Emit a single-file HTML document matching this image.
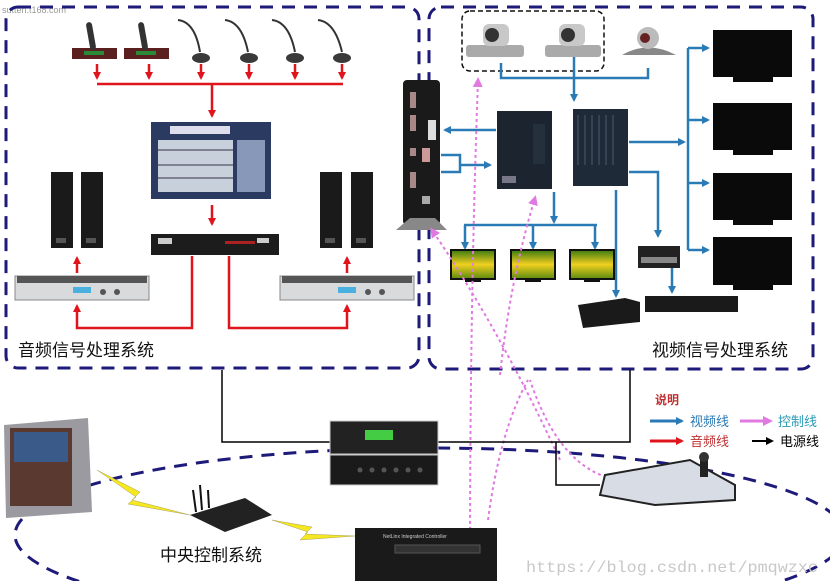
<!DOCTYPE html>
<html><head><meta charset="utf-8"><style>
html,body{margin:0;padding:0;background:#fff;width:830px;height:581px;overflow:hidden}
svg{display:block;overflow:hidden}
text{font-family:"Liberation Sans","Noto Sans CJK SC",sans-serif}
text.wm{font-family:"Liberation Mono","DejaVu Sans Mono",monospace}
</style></head><body>
<svg width="830" height="581" viewBox="0 0 830 581" xmlns="http://www.w3.org/2000/svg">
<defs>
<marker id="ar" markerWidth="8" markerHeight="8" refX="6" refY="4" orient="auto" markerUnits="userSpaceOnUse"><path d="M0,0 L8,4 L0,8 z" fill="#e0141c"/></marker>
<marker id="ab" markerWidth="8" markerHeight="8" refX="6" refY="4" orient="auto" markerUnits="userSpaceOnUse"><path d="M0,0 L8,4 L0,8 z" fill="#2a7ab5"/></marker>
<marker id="ap" markerWidth="10" markerHeight="10" refX="7" refY="5" orient="auto" markerUnits="userSpaceOnUse"><path d="M0,0 L10,5 L0,10 z" fill="#e07ae0"/></marker>
<marker id="ak" markerWidth="8" markerHeight="8" refX="6" refY="4" orient="auto" markerUnits="userSpaceOnUse"><path d="M0,0 L8,4 L0,8 z" fill="#000"/></marker>
<linearGradient id="flw" x1="0" y1="0" x2="0" y2="1"><stop offset="0" stop-color="#3a7a10"/><stop offset="0.5" stop-color="#f0d020"/><stop offset="1" stop-color="#5a8a10"/></linearGradient>
<clipPath id="clip"><rect x="0" y="0" width="830" height="581"/></clipPath>
</defs>
<g clip-path="url(#clip)">
<text x="2" y="13" font-size="9" fill="#999">sutten.t168.com</text>

<rect x="6" y="7" width="413" height="361" rx="12" fill="none" stroke="#1e1a7a" stroke-width="3" stroke-dasharray="13,9"/>
<rect x="429" y="7" width="384" height="362" rx="12" fill="none" stroke="#1e1a7a" stroke-width="3" stroke-dasharray="13,9"/>
<ellipse cx="430" cy="535" rx="415" ry="87" fill="none" stroke="#1e1a7a" stroke-width="3" stroke-dasharray="13,9"/>

<g>
<rect x="72" y="48" width="45" height="11" fill="#5a2020"/><rect x="84" y="51" width="20" height="4" fill="#2a8a3a"/>
<rect x="88" y="22" width="6" height="28" rx="3" fill="#333" transform="rotate(-10 91 36)"/>
<rect x="124" y="48" width="45" height="11" fill="#5a2020"/><rect x="136" y="51" width="20" height="4" fill="#2a8a3a"/>
<rect x="140" y="22" width="6" height="28" rx="3" fill="#333" transform="rotate(-10 143 36)"/>
</g>
<g fill="none" stroke="#333" stroke-width="2">
<path d="M178,20 Q195,22 200,52"/><path d="M225,20 Q242,22 248,52"/><path d="M272,20 Q289,22 295,52"/><path d="M318,20 Q335,22 342,52"/>
</g>
<g fill="#3a3a3a"><ellipse cx="201" cy="58" rx="9" ry="5"/><ellipse cx="249" cy="58" rx="9" ry="5"/><ellipse cx="295" cy="58" rx="9" ry="5"/><ellipse cx="342" cy="58" rx="9" ry="5"/></g>
<g stroke="#e0141c" stroke-width="2.5" fill="none">
<line x1="97" y1="64" x2="97" y2="78" marker-end="url(#ar)"/><line x1="149" y1="64" x2="149" y2="78" marker-end="url(#ar)"/>
<line x1="201" y1="64" x2="201" y2="78" marker-end="url(#ar)"/><line x1="249" y1="64" x2="249" y2="78" marker-end="url(#ar)"/>
<line x1="295" y1="64" x2="295" y2="78" marker-end="url(#ar)"/><line x1="342" y1="64" x2="342" y2="78" marker-end="url(#ar)"/>
<line x1="97" y1="84" x2="343" y2="84"/>
<line x1="212" y1="84" x2="212" y2="116" marker-end="url(#ar)"/>
<line x1="212" y1="205" x2="212" y2="224" marker-end="url(#ar)"/>
<path d="M192,256 V328 H77 V306" marker-end="url(#ar)"/>
<path d="M229,256 V328 H347 V306" marker-end="url(#ar)"/>
<line x1="77" y1="273" x2="77" y2="258" marker-end="url(#ar)"/>
<line x1="347" y1="273" x2="347" y2="258" marker-end="url(#ar)"/>
</g>
<rect x="151" y="122" width="120" height="77" fill="#2a3a60"/>
<rect x="158" y="140" width="75" height="52" fill="#c8d0dc"/>
<g stroke="#334" stroke-width="1"><line x1="158" y1="150" x2="233" y2="150"/><line x1="158" y1="165" x2="233" y2="165"/><line x1="158" y1="178" x2="233" y2="178"/></g>
<rect x="237" y="140" width="28" height="52" fill="#8898b8"/>
<rect x="170" y="126" width="60" height="8" fill="#dde"/>
<rect x="151" y="234" width="128" height="21" fill="#1c1c1c"/><rect x="158" y="238" width="14" height="6" fill="#ccc"/><rect x="225" y="241" width="30" height="3" fill="#a22"/><rect x="257" y="238" width="12" height="5" fill="#ccc"/>
<g fill="#1a1a1a"><rect x="51" y="172" width="22" height="76"/><rect x="81" y="172" width="22" height="76"/><rect x="320" y="172" width="22" height="76"/><rect x="351" y="172" width="22" height="76"/></g>
<g fill="#555"><rect x="56" y="238" width="10" height="5"/><rect x="86" y="238" width="10" height="5"/><rect x="325" y="238" width="10" height="5"/><rect x="356" y="238" width="10" height="5"/></g>
<g>
<rect x="15" y="276" width="134" height="24" fill="#d8dadc" stroke="#888"/><rect x="17" y="276" width="130" height="7" fill="#555"/><rect x="73" y="287" width="18" height="6" fill="#4ab0e0"/><circle cx="103" cy="292" r="3" fill="#555"/><circle cx="117" cy="292" r="3" fill="#555"/>
<rect x="280" y="276" width="134" height="24" fill="#d8dadc" stroke="#888"/><rect x="282" y="276" width="130" height="7" fill="#555"/><rect x="338" y="287" width="18" height="6" fill="#4ab0e0"/><circle cx="368" cy="292" r="3" fill="#555"/><circle cx="382" cy="292" r="3" fill="#555"/>
</g>
<text x="18" y="356" font-size="17" fill="#111">音频信号处理系统</text>

<rect x="462" y="11" width="142" height="60" rx="8" fill="none" stroke="#111" stroke-width="1.5" stroke-dasharray="5,3"/>
<g>
<rect x="466" y="45" width="58" height="12" rx="3" fill="#aaa"/><rect x="483" y="24" width="26" height="22" rx="6" fill="#c8c8c8"/><circle cx="492" cy="35" r="7" fill="#333"/>
<rect x="545" y="45" width="56" height="12" rx="3" fill="#aaa"/><rect x="559" y="24" width="26" height="22" rx="6" fill="#c8c8c8"/><circle cx="568" cy="35" r="7" fill="#333"/>
<path d="M622,55 Q648,40 676,55 Z" fill="#888"/><circle cx="648" cy="38" r="11" fill="#bbb"/><circle cx="645" cy="38" r="5" fill="#622"/>
</g>
<g stroke="#2a7ab5" stroke-width="2.5" fill="none">
<path d="M501,63 V78 H648 V68"/>
<line x1="574" y1="57" x2="574" y2="100" marker-end="url(#ab)"/>
<line x1="496" y1="130" x2="445" y2="130" marker-end="url(#ab)"/>
<path d="M441,155 H460 V172 H441 M460,165 H490" marker-end="url(#ab)"/>
<line x1="554" y1="192" x2="554" y2="222" marker-end="url(#ab)"/>
<line x1="464" y1="225" x2="597" y2="225"/>
<line x1="465" y1="225" x2="465" y2="248" marker-end="url(#ab)"/>
<line x1="533" y1="225" x2="533" y2="248" marker-end="url(#ab)"/>
<line x1="595" y1="225" x2="595" y2="248" marker-end="url(#ab)"/>
<line x1="629" y1="142" x2="684" y2="142" marker-end="url(#ab)"/>
<line x1="688" y1="48" x2="688" y2="250"/>
<line x1="688" y1="48" x2="708" y2="48" marker-end="url(#ab)"/>
<line x1="688" y1="120" x2="708" y2="120" marker-end="url(#ab)"/>
<line x1="688" y1="183" x2="708" y2="183" marker-end="url(#ab)"/>
<line x1="688" y1="250" x2="708" y2="250" marker-end="url(#ab)"/>
<line x1="616" y1="190" x2="616" y2="296" marker-end="url(#ab)"/>
<path d="M629,172 H658 V236" marker-end="url(#ab)"/>
<line x1="672" y1="268" x2="672" y2="292" marker-end="url(#ab)"/>
</g>
<rect x="403" y="80" width="37" height="145" rx="4" fill="#1a1a1a"/>
<path d="M396,230 L410,218 H435 L447,230 Z" fill="#888"/>
<g fill="#a88"><rect x="410" y="92" width="6" height="16"/><rect x="410" y="115" width="6" height="16"/><rect x="410" y="148" width="6" height="8"/><rect x="422" y="148" width="8" height="14" fill="#c99"/><rect x="410" y="172" width="6" height="16"/><rect x="422" y="196" width="8" height="8" fill="#aaa"/></g>
<rect x="428" y="120" width="8" height="20" fill="#ddd"/>
<rect x="497" y="111" width="55" height="78" fill="#1c2430"/><rect x="533" y="124" width="12" height="40" fill="#24303c"/><rect x="502" y="176" width="14" height="7" fill="#778"/>
<rect x="573" y="109" width="55" height="77" fill="#1e2a38"/>
<g stroke="#4a5a6a" stroke-width="1"><line x1="578" y1="115" x2="578" y2="165"/><line x1="585" y1="115" x2="585" y2="165"/><line x1="592" y1="115" x2="592" y2="165"/><line x1="599" y1="115" x2="599" y2="165"/><line x1="606" y1="115" x2="606" y2="165"/><line x1="613" y1="115" x2="613" y2="165"/></g>
<g fill="#0a0a0a">
<rect x="713" y="30" width="79" height="47"/><rect x="733" y="77" width="40" height="5"/>
<rect x="713" y="103" width="79" height="47"/><rect x="733" y="150" width="40" height="5"/>
<rect x="713" y="173" width="79" height="47"/><rect x="733" y="220" width="40" height="5"/>
<rect x="713" y="237" width="79" height="48"/><rect x="733" y="285" width="40" height="5"/>
</g>
<g><rect x="451" y="250" width="44" height="29" fill="url(#flw)" stroke="#111" stroke-width="2"/><rect x="465" y="279" width="16" height="3" fill="#111"/>
<rect x="511" y="250" width="44" height="29" fill="url(#flw)" stroke="#111" stroke-width="2"/><rect x="525" y="279" width="16" height="3" fill="#111"/>
<rect x="570" y="250" width="44" height="29" fill="url(#flw)" stroke="#111" stroke-width="2"/><rect x="584" y="279" width="16" height="3" fill="#111"/></g>
<rect x="638" y="246" width="42" height="22" fill="#222"/><rect x="641" y="257" width="36" height="6" fill="#888"/>
<path d="M578,305 L625,298 L640,302 L640,322 L583,328 Z" fill="#1a1a1a"/>
<rect x="645" y="296" width="93" height="16" fill="#1a1a1a"/>
<text x="652" y="356" font-size="17" fill="#111">视频信号处理系统</text>

<g fill="none" stroke="#e07ae0" stroke-width="2" stroke-dasharray="3,3">
<path d="M470,560 Q470,300 478,80" marker-end="url(#ap)"/>
<path d="M500,375 Q510,280 535,198" marker-end="url(#ap)"/>
<path d="M488,520 Q500,430 528,380"/>
<path d="M560,460 Q500,330 432,230" marker-end="url(#ap)"/>
<path d="M618,480 Q560,470 530,380"/>
</g>

<g fill="none" stroke="#000" stroke-width="1.5">
<path d="M222,370 V442 H330"/>
<path d="M438,442 H630 V370"/>
<path d="M556,442 V485 H600"/>
</g>
<rect x="330" y="421" width="108" height="33" fill="#222" stroke="#ccc"/><rect x="365" y="430" width="28" height="10" fill="#4c4"/>
<rect x="330" y="455" width="108" height="30" fill="#1a1a1a" stroke="#ccc"/>
<g fill="#555"><circle cx="360" cy="470" r="2.5"/><circle cx="372" cy="470" r="2.5"/><circle cx="384" cy="470" r="2.5"/><circle cx="396" cy="470" r="2.5"/><circle cx="408" cy="470" r="2.5"/><circle cx="420" cy="470" r="2.5"/></g>

<text x="655" y="404" font-size="12" fill="#c03030" font-weight="bold">说明</text>
<line x1="650" y1="421" x2="682" y2="421" stroke="#2a7ab5" stroke-width="3" marker-end="url(#ab)"/>
<text x="690" y="426" font-size="13" fill="#2a7ab5">视频线</text>
<line x1="740" y1="421" x2="770" y2="421" stroke="#e07ae0" stroke-width="3" marker-end="url(#ap)"/>
<text x="778" y="426" font-size="13" fill="#2a9ab5">控制线</text>
<line x1="650" y1="441" x2="682" y2="441" stroke="#e0141c" stroke-width="3" marker-end="url(#ar)"/>
<text x="690" y="446" font-size="13" fill="#c03030">音频线</text>
<line x1="752" y1="441" x2="772" y2="441" stroke="#000" stroke-width="2" marker-end="url(#ak)"/>
<text x="780" y="446" font-size="13" fill="#000">电源线</text>

<path d="M605,475 L690,460 L735,485 L735,500 L655,505 L600,495 Z" fill="#d8dce4" stroke="#222" stroke-width="2"/>
<rect x="700" y="455" width="8" height="22" fill="#222"/><circle cx="704" cy="457" r="5" fill="#333"/>

<path d="M4,425 L88,418 L92,512 L6,518 Z" fill="#9a9aa0"/>
<rect x="10" y="428" width="62" height="78" fill="#5a3a30"/>
<rect x="14" y="432" width="54" height="30" fill="#3a5a8a"/>
<path d="M190,515 L245,498 L272,515 L225,532 Z" fill="#222"/>
<g stroke="#111" stroke-width="2"><line x1="193" y1="490" x2="196" y2="512"/><line x1="200" y1="485" x2="202" y2="510"/><line x1="208" y1="490" x2="209" y2="508"/></g>
<path d="M97,470 L140,492 L132,500 L190,515 L128,504 L136,497 Z" fill="#f5e820" stroke="#aaa060" stroke-width="0.5"/>
<path d="M272,520 L312,527 L305,534 L355,536 L300,540 L308,532 Z" fill="#f5e820" stroke="#aaa060" stroke-width="0.5"/>
<rect x="355" y="528" width="142" height="53" fill="#1a1a1a"/>
<text x="383" y="538" font-size="5" fill="#ccc">NetLinx Integrated Controller</text>
<rect x="395" y="545" width="85" height="8" fill="#333" stroke="#555"/>
<text x="160" y="561" font-size="17" fill="#111">中央控制系统</text>
<text class="wm" x="526" y="572" font-size="16" fill="#c8c8c8" textLength="292" lengthAdjust="spacingAndGlyphs">https://blog.csdn.net/pmqwzxc</text>
</g>
</svg>
</body></html>
